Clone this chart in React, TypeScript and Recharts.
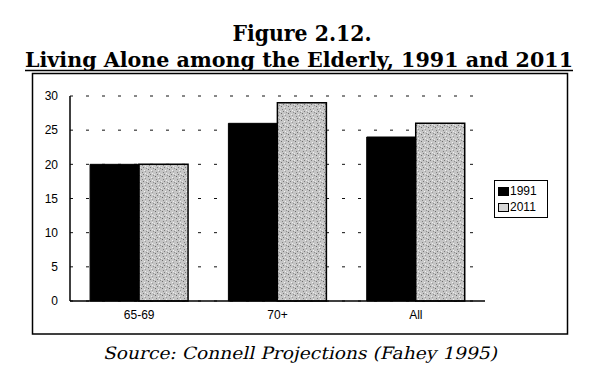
import React from 'react';
import { BarChart, Bar, XAxis, YAxis, CartesianGrid, Legend } from 'recharts';

const categories = ['65-69', '70+', 'All'];
const series1991 = [20, 26, 24];
const series2011 = [20, 29, 26];
const yTicks = [0, 5, 10, 15, 20, 25, 30];
const seriesNames = ['1991', '2011'];
const titleLine1 = 'Figure 2.12.';
const titleLine2 = 'Living Alone among the Elderly, 1991 and 2011';
const sourceText = 'Source: Connell Projections (Fahey 1995)';

const data = categories.map((c, i) => ({ cat: c, a: series1991[i], b: series2011[i] }));

const sans = '"Liberation Sans", Arial, sans-serif';
const serif = '"DejaVu Serif", "Liberation Serif", serif';

const LegendBox = (props: any) => {
  const payload = props.payload || [];
  return (
    <div style={{ border: '1px solid #000', background: '#fff', padding: '2px 3px', width: 46, fontFamily: sans, fontSize: 12, color: '#000', lineHeight: '16px' }}>
      {payload.map((p: any, i: number) => (
        <div key={i} style={{ display: 'flex', alignItems: 'center', height: 16 }}>
          <span style={{ display: 'inline-block', width: 11, height: 9, marginRight: 1, boxSizing: 'border-box', border: '1px solid #000', backgroundColor: i === 0 ? '#000' : '#d6d6d6' }} />
          <span>{p.value}</span>
        </div>
      ))}
    </div>
  );
};

export default function App() {
  return (
    <div style={{ position: 'absolute', left: 0, top: 0, width: 590, height: 382, background: '#fff', overflow: 'hidden' }}>
      <svg width={590} height={382} style={{ position: 'absolute', left: 0, top: 0 }}>
        <defs>
          <pattern id="stip" width="7" height="7" patternUnits="userSpaceOnUse">
            <rect width="7" height="7" fill="#c6c6c6" />
            <rect x="1" y="1" width="1" height="1" fill="#6a6a6a" />
            <rect x="4" y="2" width="1" height="1" fill="#f0f0f0" />
            <rect x="2" y="4" width="1" height="1" fill="#808080" />
            <rect x="5" y="5" width="1" height="1" fill="#eeeeee" />
            <rect x="6" y="0" width="1" height="1" fill="#909090" />
            <rect x="0" y="6" width="1" height="1" fill="#e8e8e8" />
            <rect x="3" y="6" width="1" height="1" fill="#7a7a7a" />
            <rect x="5" y="3" width="1" height="1" fill="#9a9a9a" />
          </pattern>
        </defs>
        <text x={302} y={41} textAnchor="middle" fontFamily={serif} fontWeight="bold" fontSize={22} textLength={139} lengthAdjust="spacingAndGlyphs" fill="#000">{titleLine1}</text>
        <text x={299} y={67} textAnchor="middle" fontFamily={serif} fontWeight="bold" fontSize={21} textLength={548} lengthAdjust="spacingAndGlyphs" fill="#000">{titleLine2}</text>
        <line x1={25} x2={573} y1={70.5} y2={70.5} stroke="#000" strokeWidth={1.5} />
        <rect x={32.5} y={73.5} width={535} height={260.5} fill="none" stroke="#000" strokeWidth={1.5} />
        <g transform="translate(300,359) skewX(-13)">
          <text x={0} y={0} textAnchor="middle" fontFamily='"DejaVu Serif", serif' fontSize={17} textLength={394} lengthAdjust="spacingAndGlyphs" fill="#000">{sourceText}</text>
        </g>
      </svg>
      <div style={{ position: 'absolute', left: 0, top: 0 }}>
        <BarChart width={590} height={382} data={data} margin={{ top: 96, right: 105, bottom: 61, left: 30 }} barGap={0} barCategoryGap="14.5%">
          <CartesianGrid vertical={false} stroke="#111" strokeDasharray="3 13" />
          <XAxis dataKey="cat" height={20} tickSize={0} tickMargin={9} axisLine={{ stroke: '#000', strokeWidth: 1.5 }} tick={{ fontFamily: sans, fontSize: 12, fill: '#000' }} />
          <XAxis xAxisId="t" dataKey="cat" orientation="top" height={0} tick={false} tickLine={false} axisLine={{ stroke: '#000', strokeWidth: 1.5 }} />
          <YAxis domain={[0, 30]} ticks={yTicks} width={40} tickSize={0} tickMargin={12} axisLine={{ stroke: '#000', strokeWidth: 1.5 }} tick={{ fontFamily: sans, fontSize: 12, fill: '#000' }} />
          <YAxis yAxisId="r" orientation="right" width={0} domain={[0, 30]} tick={false} tickLine={false} axisLine={{ stroke: '#000', strokeWidth: 1.5 }} />
          <Legend layout="vertical" align="center" verticalAlign="middle" wrapperStyle={{ left: 494, top: 180, width: 54 }} content={(p: any) => <LegendBox payload={p.payload} />} />
          <Bar dataKey="a" name={seriesNames[0]} fill="#000" stroke="#000" strokeWidth={1} isAnimationActive={false} />
          <Bar dataKey="b" name={seriesNames[1]} fill="url(#stip)" stroke="#000" strokeWidth={1.5} isAnimationActive={false} />
        </BarChart>
      </div>
    </div>
  );
}
